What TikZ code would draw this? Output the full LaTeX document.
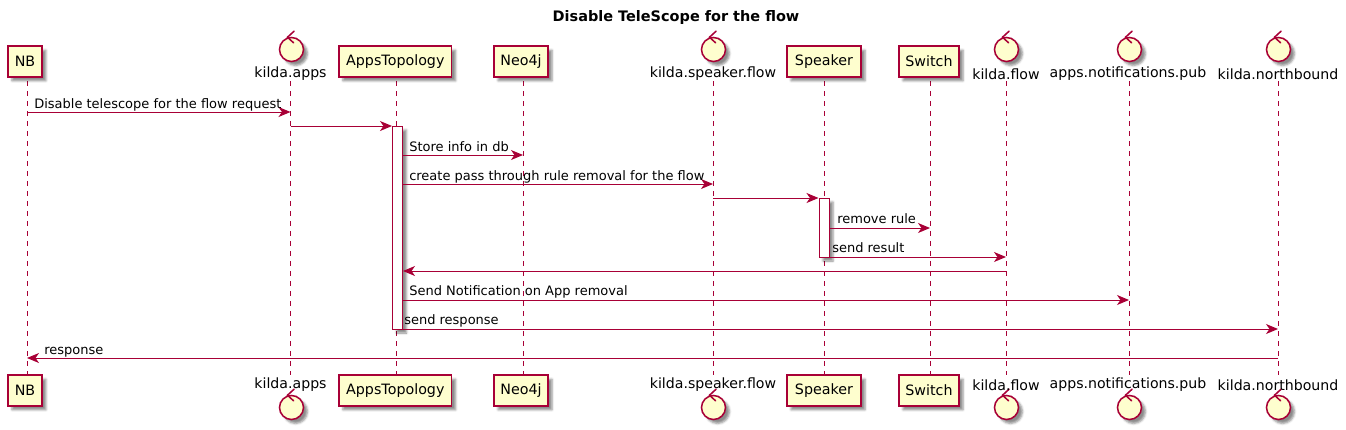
\documentclass[tikz,border=0pt]{standalone}
\usepackage{fontspec}
\setmainfont{DejaVu Sans}
\usepackage{xcolor}
\usetikzlibrary{arrows.meta,shadows.blur}
\definecolor{umlred}{HTML}{A80036}
\definecolor{umlfill}{HTML}{FEFECE}

\begin{document}
\begin{tikzpicture}[
  x=0.75pt, y=-0.75pt,
  >={Stealth[length=9pt,width=7.5pt,inset=2.6pt]},
  boxshadow/.style={blur shadow={shadow xshift=3pt, shadow yshift=-3pt, shadow blur radius=1.6pt, shadow opacity=45}},
  actor/.style={draw=umlred, line width=1.15pt, fill=umlfill, boxshadow, minimum height=23pt, inner sep=0pt, align=center, font=\fontsize{10.7}{12}\selectfont},
  control/.style={circle, draw=umlred, line width=1.15pt, fill=umlfill, boxshadow, minimum size=18pt, inner sep=0pt,
    append after command={
      ([shift={(2.5,-5.5)}]\tikzlastnode.north) edge[chevron] ([shift={(-4,0.5)}]\tikzlastnode.north)
      ([shift={(-4,0.5)}]\tikzlastnode.north) edge[chevron] ([shift={(2,6)}]\tikzlastnode.north)}},
  chevron/.style={draw=umlred, line width=1.15pt, line cap=round},
  ctrltext/.style={font=\fontsize{10.6}{12}\selectfont, inner sep=0pt},
  life/.style={draw=umlred, line width=0.75pt, dash pattern=on 3.75pt off 3.75pt},
  bar/.style={draw=umlred, line width=0.75pt, fill=white, boxshadow, minimum width=7.5pt, inner sep=0pt},
  msg/.style={->, draw=umlred, line width=0.75pt},
  msgtext/.style={anchor=base west, inner sep=0pt, font=\fontsize{9.75}{12}\selectfont},
]
\useasboundingbox (0,0) rectangle (1346,429);

% Title
\node[font=\bfseries\fontsize{10.85}{12}\selectfont, inner sep=0pt] (title) at (676,18) {Disable TeleScope for the flow};

% Lifeline ends
\coordinate (nbtop) at (27,81);       \coordinate (nbbot) at (27,375);
\coordinate (appstop) at (290.5,81);  \coordinate (appsbot) at (290.5,375);
\coordinate (topotop) at (396,81);    \coordinate (topobot) at (396,375);
\coordinate (neotop) at (523,81);     \coordinate (neobot) at (523,375);
\coordinate (spflowtop) at (713,81);  \coordinate (spflowbot) at (713,375);
\coordinate (speaktop) at (824,81);   \coordinate (speakbot) at (824,375);
\coordinate (swtop) at (930,81);      \coordinate (swbot) at (930,375);
\coordinate (flowtop) at (1006,81);   \coordinate (flowbot) at (1006,375);
\coordinate (pubtop) at (1129,81);    \coordinate (pubbot) at (1129,375);
\coordinate (northtop) at (1278,81);  \coordinate (northbot) at (1278,375);

% Lifelines
\draw[life] (nbtop) -- (nbbot);
\draw[life] (appstop) -- (appsbot);
\draw[life] (topotop) -- (topobot);
\draw[life] (neotop) -- (neobot);
\draw[life] (spflowtop) -- (spflowbot);
\draw[life] (speaktop) -- (speakbot);
\draw[life] (swtop) -- (swbot);
\draw[life] (flowtop) -- (flowbot);
\draw[life] (pubtop) -- (pubbot);
\draw[life] (northtop) -- (northbot);

% Participants, top row
\node[actor, minimum width=25.5pt] (nb) at (25,61.5) {NB};
\node[control] (apps) at (291.5,49.5) {};
\node[ctrltext] (appstext) at (290.5,74) {kilda.apps};
\node[actor, minimum width=84.5pt] (topo) at (395.3,61.5) {AppsTopology};
\node[actor, minimum width=40.5pt] (neo) at (521,61.5) {Neo4j};
\node[control] (spflow) at (713.5,49.5) {};
\node[ctrltext] (spflowtext) at (713,74) {kilda.speaker.flow};
\node[actor, minimum width=55.5pt] (speak) at (824,61.5) {Speaker};
\node[actor, minimum width=45pt] (sw) at (929,61.5) {Switch};
\node[control] (flow) at (1006.5,49.5) {};
\node[ctrltext] (flowtext) at (1006,74) {kilda.flow};
\node[control] (pub) at (1129.5,49.5) {};
\node[ctrltext] (pubtext) at (1128,74) {apps.notifications.pub};
\node[control] (north) at (1278.5,49.5) {};
\node[ctrltext] (northtext) at (1278,74) {kilda.northbound};

% Participants, bottom row
\node[actor, minimum width=25.5pt] (nbb) at (25,390.5) {NB};
\node[control] (appsb) at (291.5,407.5) {};
\node[ctrltext] (appsbtext) at (290.5,385) {kilda.apps};
\node[actor, minimum width=84.5pt] (topob) at (395.3,390.5) {AppsTopology};
\node[actor, minimum width=40.5pt] (neob) at (521,390.5) {Neo4j};
\node[control] (spflowb) at (713.5,407.5) {};
\node[ctrltext] (spflowbtext) at (713,385) {kilda.speaker.flow};
\node[actor, minimum width=55.5pt] (speakb) at (824,390.5) {Speaker};
\node[actor, minimum width=45pt] (swb) at (929,390.5) {Switch};
\node[control] (flowb) at (1006.5,407.5) {};
\node[ctrltext] (flowbtext) at (1006,385) {kilda.flow};
\node[control] (pubb) at (1129.5,407.5) {};
\node[ctrltext] (pubbtext) at (1128,385) {apps.notifications.pub};
\node[control] (northb) at (1278.5,407.5) {};
\node[ctrltext] (northbtext) at (1278,385) {kilda.northbound};

% Activation bars
\node[bar, minimum height=152.25pt] (act1) at (397.5,227.5) {};
\node[bar, minimum height=44.25pt] (act2) at (824,227.5) {};

% Message rows
\coordinate (r1) at (0,112);
\coordinate (r2) at (0,126);
\coordinate (r3) at (0,155);
\coordinate (r4) at (0,184);
\coordinate (r5) at (0,198);
\coordinate (r6) at (0,228);
\coordinate (r7) at (0,257);
\coordinate (r8) at (0,271);
\coordinate (r9) at (0,300);
\coordinate (r10) at (0,329);
\coordinate (r11) at (0,358);

% Messages
\draw[msg] (nbtop |- r1) -- (appstop |- r1);
\draw[msg] (appstop |- r2) -- (act1.west |- r2);
\draw[msg] (act1.east |- r3) -- (neotop |- r3);
\draw[msg] (act1.east |- r4) -- (spflowtop |- r4);
\draw[msg] (spflowtop |- r5) -- (act2.west |- r5);
\draw[msg] (act2.east |- r6) -- (swtop |- r6);
\draw[msg] (act2.east |- r7) -- (flowtop |- r7);
\draw[msg] (flowtop |- r8) -- (act1.east |- r8);
\draw[msg] (act1.east |- r9) -- (pubtop |- r9);
\draw[msg] (act1.east |- r10) -- (northtop |- r10);
\draw[msg] (northtop |- r11) -- (nbtop |- r11);

% Message labels
\node[msgtext] (t1) at (34,108) {Disable telescope for the flow request};
\node[msgtext] (t3) at (409,151) {Store info in db};
\node[msgtext] (t4) at (409,180) {create pass through rule removal for the flow};
\node[msgtext] (t6) at (837,223) {remove rule};
\node[msgtext] (t7) at (832,252) {send result};
\node[msgtext] (t9) at (409,295) {Send Notification on App removal};
\node[msgtext] (t10) at (404,324) {send response};
\node[msgtext] (t11) at (44,354) {response};

\end{tikzpicture}
\end{document}
